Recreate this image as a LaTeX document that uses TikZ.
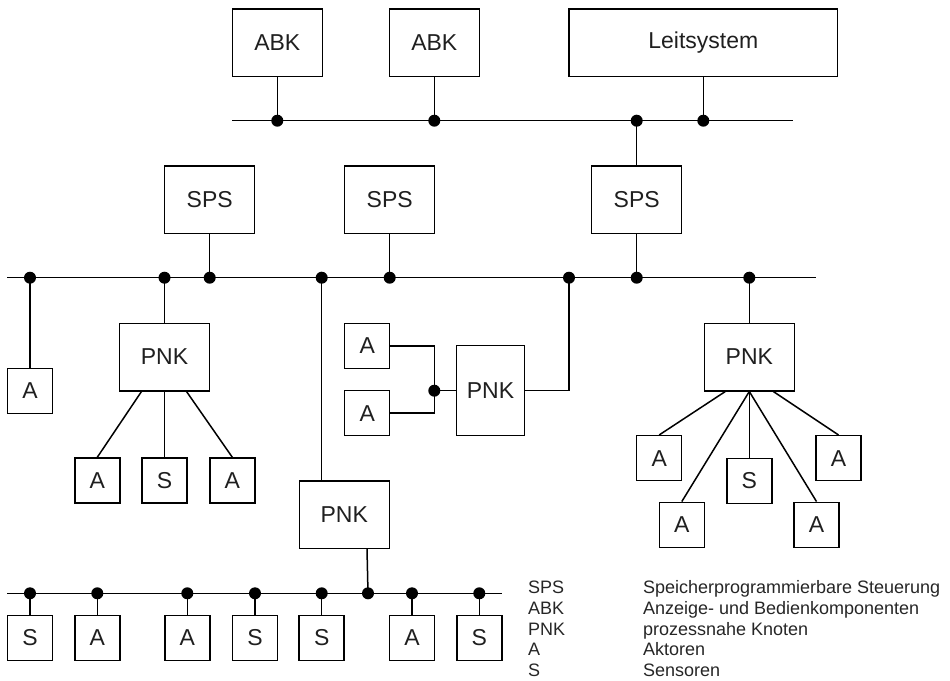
\documentclass[tikz,border=0pt]{standalone}
\usepackage{fontspec}
\setmainfont{Liberation Sans}
\begin{document}
\begin{tikzpicture}[x=1pt,y=-1pt,
  line width=1.5pt,
  unit/.style={draw, line width=1.5pt, inner sep=0pt, text=black!88, font=\fontsize{23}{23}\selectfont},
  big/.style={unit, minimum width=90pt, minimum height=67.5pt},
  small/.style={unit, minimum width=45pt, minimum height=45pt},
  bus/.style={line width=1.5pt},
  joint/.style={circle, fill=black, inner sep=0pt, minimum size=12pt},
  legend/.style={anchor=base west, inner sep=0pt, text=black!85, font=\fontsize{18}{18}\selectfont}]
\useasboundingbox (0,0) rectangle (950,680);

% ---------- control level ----------
\node[big] (abk1) at (277.3,42.5) {ABK};
\node[big] (abk2) at (434.3,42.5) {ABK};
\node[unit, minimum width=268.7pt, minimum height=67.5pt] (leit) at (703.3,42.5) {Leitsystem};

\coordinate (b1s) at (232.3,120.7);
\coordinate (b1e) at (793.3,120.7);
\draw[bus] (b1s) -- (b1e);
\foreach \n/\x in {1/277.3,2/434.3,3/636.7,4/703.3}
  \coordinate (d1\n) at (\x,120.7);

\draw (abk1.south) -- (d11);
\draw (abk2.south) -- (d12);
\draw (leit.south) -- (d14);

% ---------- PLC level ----------
\node[big] (sps1) at (209.7,199.5) {SPS};
\node[big] (sps2) at (389.7,199.5) {SPS};
\node[big] (sps3) at (636.7,199.5) {SPS};
\draw (sps3.north) -- (d13);

\coordinate (b2s) at (7.3,277.7);
\coordinate (b2e) at (816,277.7);
\draw[bus] (b2s) -- (b2e);
\foreach \n/\x in {1/30,2/164.5,3/209.7,4/321.7,5/389.7,6/569,7/636.7,8/749.3}
  \coordinate (d2\n) at (\x,277.7);

\draw (sps1.south) -- (d23);
\draw (sps2.south) -- (d25);
\draw (sps3.south) -- (d27);

% ---------- field level ----------
\node[small] (a0) at (30,390.8) {A};
\draw (a0.north) -- (d21);

\node[big] (pnk1) at (164.5,357) {PNK};
\draw (pnk1.north) -- (d22);
\node[small] (a1) at (97.3,480.5) {A};
\node[small] (s1) at (164.5,480.5) {S};
\node[small] (a2) at (232.3,480.5) {A};
\draw ([xshift=-23pt]pnk1.south) -- (a1.north);
\draw (pnk1.south) -- (s1.north);
\draw ([xshift=22pt]pnk1.south) -- (a2.north);

\node[small] (at) at (367.2,345.8) {A};
\node[small] (ab) at (367.2,413.2) {A};
\node[unit, minimum width=67.7pt, minimum height=90pt] (pnk2) at (490.5,390.7) {PNK};
\coordinate (jm) at (434.3,390.7);
\draw (at.east) -| (jm);
\draw (ab.east) -| (jm);
\draw (jm) -- (pnk2.west);
\draw (pnk2.east) -| (d26);

\node[big] (pnk3) at (749.3,357) {PNK};
\draw (pnk3.north) -- (d28);
\node[small] (a3) at (659.2,458.2) {A};
\node[small] (a4) at (681.8,524.8) {A};
\node[small] (s2) at (749.3,480.8) {S};
\node[small] (a5) at (816.5,524.8) {A};
\node[small] (a6) at (838.5,458.2) {A};
\draw ([xshift=-24pt]pnk3.south) -- (a3.north);
\draw (pnk3.south) -- (a4.north);
\draw (pnk3.south) -- (s2.north);
\draw (pnk3.south) -- (a5.north);
\draw ([xshift=24pt]pnk3.south) -- (a6.north);

\node[big] (pnk4) at (344.3,514.5) {PNK};
\draw (d24) -- (d24 |- pnk4.north);

% ---------- sensor/actuator bus ----------
\coordinate (b3s) at (7.3,593.3);
\coordinate (b3e) at (501.7,593.3);
\draw[bus] (b3s) -- (b3e);
\foreach \n/\x in {1/30,2/97.3,3/187.3,4/255,5/321.7,6/368,7/412,8/479.3}
  \coordinate (d3\n) at (\x,593.3);
\draw ([xshift=22.7pt]pnk4.south) -- (d36);

\foreach \name/\n/\x/\t in {s3/1/30/S, a7/2/97.3/A, a8/3/187.3/A, s4/4/255/S,
                            s5/5/321.7/S, a9/7/412/A, s6/8/479.3/S} {
  \node[small] (\name) at (\x,637.8) {\t};
  \draw (\name.north) -- (d3\n);
}

% ---------- junction dots ----------
\foreach \d in {d11,d12,d13,d14,d21,d22,d23,d24,d25,d26,d27,d28,
                d31,d32,d33,d34,d35,d36,d37,d38,jm}
  \node[joint] at (\d) {};

% ---------- legend ----------
\node[legend] (k1) at (527.3,593.6) {SPS};
\node[legend] (v1) at (642.3,593.6) {Speicherprogrammierbare Steuerung};
\node[legend] (k2) at (527.3,614.3) {ABK};
\node[legend] (v2) at (642.3,614.3) {Anzeige- und Bedienkomponenten};
\node[legend] (k3) at (527.3,635.0) {PNK};
\node[legend] (v3) at (642.3,635.0) {prozessnahe Knoten};
\node[legend] (k4) at (527.3,655.7) {A};
\node[legend] (v4) at (642.3,655.7) {Aktoren};
\node[legend] (k5) at (527.3,676.4) {S};
\node[legend] (v5) at (642.3,676.4) {Sensoren};
\end{tikzpicture}
\end{document}
